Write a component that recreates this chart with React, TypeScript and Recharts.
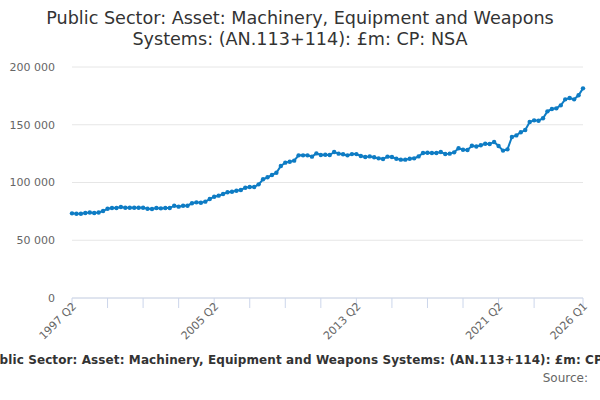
import { LineChart, Line, XAxis, YAxis, CartesianGrid } from "recharts";

const TITLE_1 = "Public Sector: Asset: Machinery, Equipment and Weapons";
const TITLE_2 = "Systems: (AN.113+114): £m: CP: NSA";
const CAPTION =
  "Public Sector: Asset: Machinery, Equipment and Weapons Systems: (AN.113+114): £m: CP: NSA";

// quarterly values, £m, 1997 Q2 .. 2026 Q1
const values = [
  73300, 73000, 73000, 73600, 74000, 73600, 74000, 75300, 77300, 77900,
  77900, 78800, 78200, 78200, 78200, 78200, 78200, 77300, 77100, 77900,
  77600, 77900, 77900, 79900, 79100, 79900, 79900, 82000, 82800, 82500,
  83400, 85700, 87700, 88600, 90000, 91500, 92000, 92900, 93500, 95500,
  96100, 96100, 98400, 102800, 104500, 106500, 108500, 114300, 117200, 118000,
  118900, 123500, 123500, 123500, 122400, 125200, 123800, 124000, 123800, 126400,
  125000, 124400, 123500, 124600, 124600, 122900, 122100, 122600, 121800, 120900,
  120300, 122400, 122100, 120600, 119800, 119800, 120600, 120900, 122600, 125500,
  125800, 125500, 125500, 126400, 124700, 125000, 126100, 129600, 128400, 128100,
  131800, 131200, 132200, 133600, 133300, 135100, 131600, 127600, 128700, 139400,
  140800, 143500, 145400, 152400, 153800, 153500, 155600, 161600, 163600, 164200,
  166800, 172000, 173200, 172000, 175500, 181500,
];

const quarters: string[] = [];
for (let i = 0; i < values.length; i++) {
  const q = i + 1; // 1997 Q2 is index 0
  quarters.push(`${1997 + Math.floor(q / 4)} Q${(q % 4) + 1}`);
}

const tickQuarters = [
  "1997 Q2", "1999 Q2", "2001 Q2", "2003 Q2", "2005 Q2", "2007 Q2", "2009 Q2", "2011 Q2",
  "2013 Q2", "2015 Q2", "2017 Q2", "2019 Q2", "2021 Q2", "2023 Q2", "2026 Q1",
];
const labelledQuarters = ["1997 Q2", "2005 Q2", "2013 Q2", "2021 Q2", "2026 Q1"];
const yTicks = [0, 50000, 100000, 150000, 200000];

const data = quarters.map((q, i) => ({ quarter: q, value: values[i] }));

const FONT = "'DejaVu Sans', sans-serif";
const BLUE = "#0e7cc4";

const fmt = (v: number) => String(v).replace(/\B(?=(\d{3})+(?!\d))/g, " ");

function XTick(props: any) {
  const { x, payload } = props;
  if (!labelledQuarters.includes(payload.value)) return null;
  const tx = x + 5;
  const ty = 307;
  return (
    <text
      x={tx}
      y={ty}
      textAnchor="end"
      fontSize={11}
      fill="#666666"
      fontFamily={FONT}
      transform={`rotate(-45 ${tx} ${ty})`}
    >
      {payload.value}
    </text>
  );
}

export default function App() {
  return (
    <div
      style={{
        position: "fixed",
        left: 0,
        top: 0,
        width: 600,
        height: 400,
        background: "#fff",
        overflow: "hidden",
        fontFamily: FONT,
      }}
    >
      <div
        style={{
          position: "absolute",
          top: 8,
          left: 0,
          width: 600,
          textAlign: "center",
          fontSize: 17.6,
          lineHeight: "21px",
          color: "#333333",
        }}
      >
        <div>{TITLE_1}</div>
        <div>{TITLE_2}</div>
      </div>
      <LineChart
        width={600}
        height={400}
        data={data}
        margin={{ top: 67, right: 17, left: 12, bottom: 42 }}
      >
        <CartesianGrid vertical={false} stroke="#e6e6e6" />
        <XAxis
          dataKey="quarter"
          ticks={tickQuarters}
          interval={0}
          height={60}
          stroke="#ccd6eb"
          tickSize={10}
          tick={<XTick />}
        />
        <YAxis
          domain={[0, 200000]}
          ticks={yTicks}
          width={60}
          axisLine={false}
          tickLine={false}
          tickSize={0}
          tickMargin={17}
          tickFormatter={fmt}
          tick={{ fontSize: 11, fill: "#666666", fontFamily: FONT }}
        />
        <Line
          type="linear"
          dataKey="value"
          stroke={BLUE}
          strokeWidth={2}
          dot={{ r: 2.2, fill: BLUE, stroke: BLUE, strokeWidth: 0 }}
          isAnimationActive={false}
        />
      </LineChart>
      {/* the caption runs wider than the chart, and is clipped at both sides as in the source */}
      <div
        style={{
          position: "absolute",
          top: 353,
          left: -18,
          whiteSpace: "nowrap",
          fontSize: 12,
          letterSpacing: 0.1,
          fontWeight: "bold",
          color: "#333333",
        }}
      >
        {CAPTION}
      </div>
      <div
        style={{
          position: "absolute",
          top: 371,
          right: 12,
          fontSize: 12,
          color: "#666666",
        }}
      >
        Source:
      </div>
    </div>
  );
}
